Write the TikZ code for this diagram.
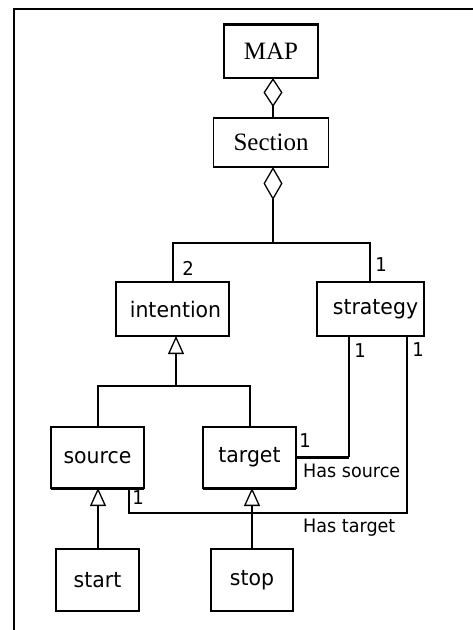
\documentclass[tikz,border=0pt]{standalone}
\usepackage{fontspec}
\usetikzlibrary{arrows.meta}
\newfontfamily\umlsans[FakeStretch=0.95]{DejaVu Sans}
\newfontfamily\umlserif{Liberation Serif}
\newcommand{\lowered}[1]{\raisebox{-4pt}{#1}}
\begin{document}
\begin{tikzpicture}[x=1pt,y=-1pt,
  box/.style={draw,line width=1.3pt,inner sep=0pt,outer sep=0pt},
  serifbox/.style={box,font=\umlserif\fontsize{25}{28}\selectfont},
  sansbox/.style={box,font=\umlsans\fontsize{21.5}{24}\selectfont},
  mult/.style={inner sep=0pt,font=\umlsans\fontsize{19}{21}\selectfont},
  lbl/.style={inner sep=0pt,anchor=west,font=\umlsans\fontsize{18.5}{20}\selectfont},
  conn/.style={line width=1.3pt},
  agg/.style={conn,-{Diamond[open,length=#1,width=19pt,line width=1.3pt]}},
  gen/.style={conn,-{Triangle[open,length=18pt,width=16pt,line width=1.3pt]}}
]
\useasboundingbox (0,0) rectangle (473,630);
% frame
\coordinate (fl) at (14,630);
\coordinate (fc) at (14,9);
\coordinate (fr) at (473,9);
\draw[line width=1.6pt] (fl) -- (fc) -- (fr);
% boxes
\node[serifbox,minimum width=94pt,minimum height=54pt] (map) at (271,51) {MAP};
\node[serifbox,minimum width=115pt,minimum height=49pt] (sec) at (271,142.5) {Section};
\node[sansbox,minimum width=113pt,minimum height=54pt] (int) at (172.5,309) {\lowered{\hspace{6pt}intention}};
\node[sansbox,minimum width=107pt,minimum height=54pt] (str) at (370.5,309) {\lowered{\hspace{10pt}strategy}};
\node[sansbox,minimum width=93pt,minimum height=61pt] (src) at (97.5,457.5) {source};
\node[sansbox,minimum width=93pt,minimum height=61pt] (tgt) at (249.5,457.5) {target};
\node[sansbox,minimum width=83pt,minimum height=62pt] (sta) at (97.5,580) {start};
\node[sansbox,minimum width=82pt,minimum height=62pt] (sto) at (252,580) {stop};
% thick edges
\draw[line width=3pt] (map.north west) -- (map.north east);
\draw[line width=3pt] (src.south west) -- (src.south east);
\draw[line width=3pt] (tgt.south west) -- (tgt.south east);
% aggregation
\coordinate (j0) at (273,0);
\draw[agg=29pt] (sec.north -| j0) -- (map.south -| j0);
\coordinate (j1) at (273,243);
\draw[agg=33pt] (j1) -- (j1 |- sec.south);
\coordinate (j1l) at (173,243);
\coordinate (j1r) at (370,243);
\draw[conn] (int.north -| j1l) -- (j1l) -- (j1r) -- (str.north -| j1r);
\node[mult] (m2) at (188,268) {2};
\node[mult] (m1a) at (381,265) {1};
% generalization intention
\coordinate (j2) at (176,386);
\coordinate (j2l) at (98,386);
\coordinate (j2r) at (250,386);
\draw[gen] (j2) -- (j2 |- int.south);
\draw[conn] (src.north -| j2l) -- (j2l) -- (j2r) -- (tgt.north -| j2r);
% generalization source/target
\draw[gen] (sta.north -| 98,0) -- (src.south -| 98,0);
\draw[gen] (sto.north) -- (sto.north |- tgt.south);
% has source
\coordinate (hs) at (349,457);
\draw[line width=3pt] (tgt.east |- hs) -- (hs);
\draw[conn] (hs) -- (hs |- str.south);
% has target
\coordinate (ht1) at (129,513);
\coordinate (ht2) at (407,513);
\draw[conn] (src.south -| ht1) -- (ht1) -- (ht2) -- (ht2 |- str.south);
% labels
\node[mult] (m1b) at (360,351) {1};
\node[mult] (m1c) at (418,350) {1};
\node[mult] (m1d) at (305,441) {1};
\node[mult] (m1e) at (138,498) {1};
\node[lbl] (hsl) at (303,471) {Has source};
\node[lbl] (htl) at (303,528) {Has target};
\end{tikzpicture}
\end{document}
